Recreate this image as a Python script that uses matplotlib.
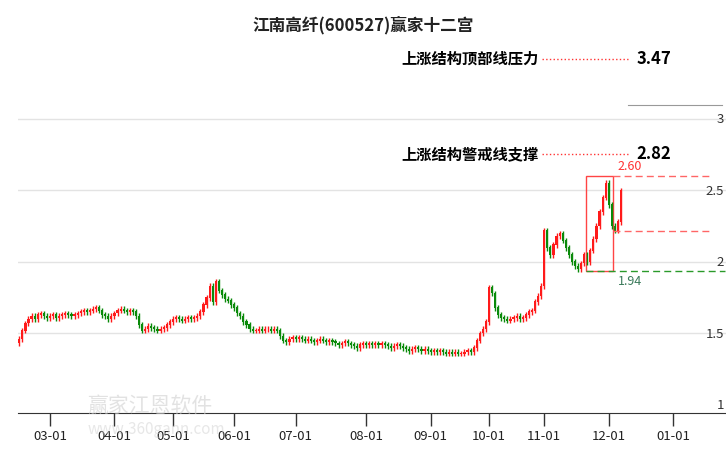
import numpy as np
import matplotlib.pyplot as plt
import matplotlib.transforms as mtransforms

plt.rcParams['font.family'] = ['Noto Sans CJK SC', 'DejaVu Sans']

# daily closes, grouped by month (trading days)
feb = [1.46, 1.52, 1.57, 1.60, 1.62, 1.60, 1.63, 1.64, 1.62, 1.61]
mar = [1.62, 1.63, 1.61, 1.62, 1.63, 1.64, 1.63, 1.62, 1.63, 1.64, 1.65, 1.66, 1.65, 1.66, 1.67, 1.68, 1.66, 1.63, 1.62, 1.60, 1.62]
apr = [1.64, 1.66, 1.67, 1.66, 1.65, 1.66, 1.65, 1.62, 1.56, 1.52, 1.53, 1.55, 1.54, 1.53, 1.52, 1.53, 1.54, 1.56, 1.58]
may = [1.60, 1.61, 1.60, 1.59, 1.60, 1.61, 1.60, 1.61, 1.62, 1.65, 1.70, 1.75, 1.83, 1.72, 1.86, 1.80, 1.77, 1.74, 1.73, 1.70]
jun = [1.68, 1.64, 1.62, 1.58, 1.56, 1.53, 1.52, 1.52, 1.53, 1.52, 1.53, 1.53, 1.52, 1.53, 1.52, 1.48, 1.45, 1.44, 1.46, 1.47]
jul = [1.46, 1.47, 1.46, 1.45, 1.46, 1.45, 1.44, 1.45, 1.46, 1.45, 1.44, 1.45, 1.44, 1.43, 1.42, 1.43, 1.44, 1.43, 1.42, 1.41, 1.40, 1.42, 1.43]
aug = [1.42, 1.43, 1.42, 1.43, 1.42, 1.43, 1.42, 1.41, 1.40, 1.41, 1.42, 1.41, 1.40, 1.39, 1.38, 1.39, 1.40, 1.39, 1.38, 1.39, 1.38]
sep = [1.37, 1.38, 1.37, 1.38, 1.37, 1.36, 1.37, 1.36, 1.37, 1.36, 1.36, 1.37, 1.38, 1.37, 1.40, 1.45, 1.50, 1.53, 1.58]
oct_ = [1.82, 1.78, 1.68, 1.63, 1.61, 1.60, 1.59, 1.60, 1.61, 1.62, 1.60, 1.61, 1.63, 1.65, 1.66, 1.72, 1.76, 1.83]
nov = [2.22, 2.10, 2.05, 2.12, 2.18, 2.20, 2.15, 2.10, 2.05, 2.00, 1.97, 1.95, 1.99, 2.05, 2.00, 2.08, 2.16, 2.25, 2.35, 2.45, 2.55]
dec = [2.40, 2.25, 2.22, 2.28, 2.50]
months = [feb, mar, apr, may, jun, jul, aug, sep, oct_, nov, dec]
tick_labels = ['03-01', '04-01', '05-01', '06-01', '07-01', '08-01', '09-01', '10-01', '11-01', '12-01', '01-01']
month_after_dec = 21  # trading days assumed for December when placing 01-01

closes = np.array(sum(months, []))
opens = np.concatenate([[closes[0] - 0.03], closes[:-1]])
wick = 0.02

top_price, low_price, warn_price, resist, support = 2.60, 1.94, 2.22, 3.47, 2.82

fig = plt.figure(figsize=(7.26, 4.5), dpi=100)
ax = fig.add_axes([18 / 726, 37 / 450, 708 / 726, 373 / 450])
ax.set_xlim(-0.42, 230.2)
ax.set_ylim(0.944, 3.552)

for y in [1.5, 2, 2.5, 3]:
    ax.axhline(y, color='#e3e3e3', lw=1, zorder=0)

x = np.arange(len(closes))
up = closes >= opens
col = np.where(up, '#ff1a1a', '#0a8a0a')
hi = np.maximum(opens, closes) + wick
lo = np.minimum(opens, closes) - wick
ax.vlines(x, lo, hi, colors=col, lw=1)
ax.bar(x, np.abs(closes - opens) + 0.004, bottom=np.minimum(opens, closes), width=0.7, color=col)

# month ticks
starts = np.cumsum([len(m) for m in months])[:-1].tolist()
starts.append(starts[-1] + month_after_dec)
ax.set_xticks(starts)
ax.set_xticklabels(tick_labels, fontsize=9.5, color='#222222')
ax.tick_params(axis='x', length=9, width=1, color='#333333', pad=3)
ax.set_yticks([])
for s in ['top', 'right', 'left']:
    ax.spines[s].set_visible(False)
ax.spines['bottom'].set_color('#333333')

trans = mtransforms.blended_transform_factory(ax.transAxes, ax.transData)
for y, lab in [(1, '1'), (1.5, '1.5'), (2, '2'), (2.5, '2.5'), (3, '3')]:
    ax.text(0.997, y - 0.005, lab, transform=trans, ha='right', va='center', fontsize=9.5, color='#333333')

# top / bottom box
i0 = len(closes) - 12
i1 = len(closes) - 3
ax.add_patch(plt.Rectangle((i0 - 0.5, low_price), i1 - i0, top_price - low_price,
                           fill=False, ec='#ff4444', lw=1))
ax.plot([i1 - 0.5, 225], [top_price] * 2, ls=(0, (5, 3)), color='#ff6666', lw=1)
ax.plot([i1 - 0.5, 226], [warn_price] * 2, ls=(0, (5, 3)), color='#ff6666', lw=1)
ax.plot([i0 - 0.5, 230], [low_price] * 2, ls=(0, (5, 3)), color='#2a9a2a', lw=1)
ax.text(i1 + 1, top_price + 0.02, f'{top_price:.2f}', color='#ff3333', fontsize=9, va='bottom')
ax.text(i1 + 1, low_price - 0.03, f'{low_price:.2f}', color='#3a7a5a', fontsize=9, va='top')

# resistance / support labels
ax.text(0.735, 3.42, '上涨结构顶部线压力', transform=trans, ha='right', va='center', fontsize=11, fontweight='bold')
ax.plot([0.74, 0.862], [3.42, 3.42], transform=trans, ls=':', color='#ff3333', lw=1)
ax.text(0.874, 3.42, f'{resist:.2f}', transform=trans, va='center', fontsize=12, fontweight='bold')
ax.text(0.735, 2.755, '上涨结构警戒线支撑', transform=trans, ha='right', va='center', fontsize=11, fontweight='bold')
ax.plot([0.74, 0.862], [2.755, 2.755], transform=trans, ls=':', color='#ff3333', lw=1)
ax.text(0.874, 2.755, f'{support:.2f}', transform=trans, va='center', fontsize=12, fontweight='bold')
ax.plot([0.862, 0.995], [3.095, 3.095], transform=trans, color='#999999', lw=0.8)

# watermark
fig.text(0.12, 0.085, '赢家江恩软件', fontsize=15, color='#d0d0d0', alpha=0.6, zorder=0)
fig.text(0.12, 0.035, 'www.360gann.com', fontsize=11, color='#d0d0d0', alpha=0.5, zorder=0)

fig.suptitle('江南高纤(600527)赢家十二宫', y=0.965, fontsize=12, fontweight='bold', color='#222222')
fig.savefig('out.png', dpi=100)
